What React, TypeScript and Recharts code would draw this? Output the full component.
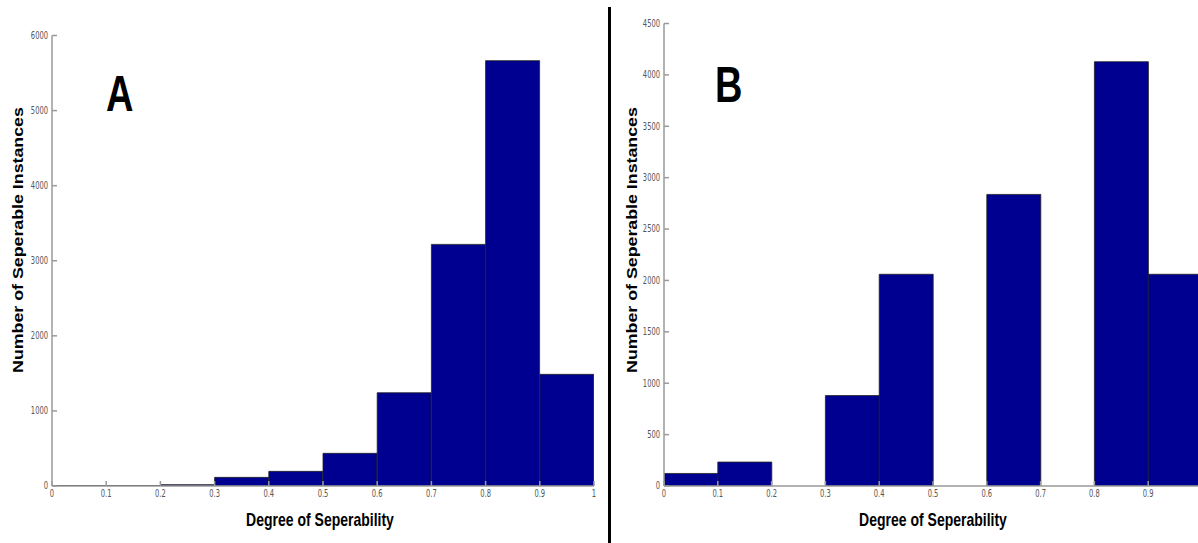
import React from 'react';
import { BarChart, Bar, XAxis, YAxis } from 'recharts';

const binCenters = [0.05, 0.15, 0.25, 0.35, 0.45, 0.55, 0.65, 0.75, 0.85, 0.95];
const countsA = [5, 5, 18, 115, 195, 435, 1242, 3218, 5665, 1487];
const countsB = [122, 233, 0, 880, 2060, 0, 2837, 0, 4128, 2060];
const xTicksA = [0, 0.1, 0.2, 0.3, 0.4, 0.5, 0.6, 0.7, 0.8, 0.9, 1];
const xTicksB = [0, 0.1, 0.2, 0.3, 0.4, 0.5, 0.6, 0.7, 0.8, 0.9];
const yTicksA = [0, 1000, 2000, 3000, 4000, 5000, 6000];
const yTicksB = [0, 500, 1000, 1500, 2000, 2500, 3000, 3500, 4000, 4500];

const dataA = binCenters.map((c, i) => ({ x: c, count: countsA[i] }));
const dataB = binCenters.map((c, i) => ({ x: c, count: countsB[i] }));

const FONT = "'Liberation Sans', Arial, sans-serif";
const TICK_FONT = "'Liberation Sans Narrow', 'DejaVu Sans Condensed', 'Liberation Sans', Arial, sans-serif";
const SY = 1.3;

const YTick = (props: any) => {
  const { x, y, payload } = props;
  return (
    <g transform={`translate(${x},${y}) scale(1,${SY})`}>
      <text x={0} y={0} dy="0.35em" textAnchor="end" fontSize={7.5} fill="#555" fontFamily={TICK_FONT}>
        {payload.value}
      </text>
    </g>
  );
};

const XTick = (props: any) => {
  const { x, y, payload } = props;
  return (
    <g transform={`translate(${x},${y}) scale(1,${SY})`}>
      <text x={0} y={0} dy="0.71em" textAnchor="middle" fontSize={7.5} fill="#555" fontFamily={TICK_FONT}>
        {payload.value}
      </text>
    </g>
  );
};

const BAR_FILL = '#000090';
const AXIS_COLOR = '#9a9a9a';

function Hist({ data, yMax, yTicks, xTicks, margin }: any) {
  return (
    <BarChart width={600} height={543} data={data} margin={margin} barCategoryGap={0} barGap={0}>
      <XAxis
        dataKey="x"
        type="number"
        domain={[0, 1]}
        ticks={xTicks}
        allowDataOverflow
        padding={{ left: 0, right: 0 }}
        height={30}
        tickSize={-5}
        tickMargin={9}
        stroke={AXIS_COLOR}
        strokeWidth={1.5}
        tick={<XTick />}
        interval={0}
      />
      <YAxis
        type="number"
        domain={[0, yMax]}
        ticks={yTicks}
        allowDataOverflow
        width={40}
        tickSize={-5}
        tickMargin={9}
        stroke={AXIS_COLOR}
        strokeWidth={1.5}
        tick={<YTick />}
        interval={0}
      />
      <Bar dataKey="count" fill={BAR_FILL} stroke="#222" strokeWidth={0.8} isAnimationActive={false} />
    </BarChart>
  );
}

export default function App() {
  return (
    <div style={{ position: 'absolute', left: 0, top: 0, width: 1198, height: 543, overflow: 'hidden', background: '#fff' }}>
      <div style={{ position: 'absolute', left: 0, top: 0 }}>
        <Hist data={dataA} yMax={6000} yTicks={yTicksA} xTicks={xTicksA} margin={{ top: 35.5, right: 6, bottom: 27, left: 12 }} />
      </div>
      <div style={{ position: 'absolute', left: 612, top: 0 }}>
        <Hist data={dataB} yMax={4500} yTicks={yTicksB} xTicks={xTicksB} margin={{ top: 23.5, right: 10, bottom: 27, left: 12 }} />
      </div>
      <svg width={1198} height={543} style={{ position: 'absolute', left: 0, top: 0, pointerEvents: 'none' }}>
        <rect x={608} y={7} width={3} height={536} fill="#000" />
        <g transform={`translate(106,111) scale(1,1.3)`}>
          <text x={0} y={0} fontSize={38} fontWeight="bold" fontFamily={FONT} fill="#000">A</text>
        </g>
        <g transform={`translate(715,102) scale(1,1.3)`}>
          <text x={0} y={0} fontSize={38} fontWeight="bold" fontFamily={FONT} fill="#000">B</text>
        </g>
        <g transform={`translate(320,526) scale(1,1.27)`}>
          <text x={0} y={0} textAnchor="middle" fontSize={14} fontWeight="bold" fontFamily={FONT} fill="#000">Degree of Seperability</text>
        </g>
        <g transform={`translate(933,526) scale(1,1.27)`}>
          <text x={0} y={0} textAnchor="middle" fontSize={14} fontWeight="bold" fontFamily={FONT} fill="#000">Degree of Seperability</text>
        </g>
        <g transform={`translate(23,240) scale(1,1.27) rotate(-90)`}>
          <text x={0} y={0} textAnchor="middle" fontSize={14} fontWeight="bold" fontFamily={FONT} fill="#000">Number of Seperable Instances</text>
        </g>
        <g transform={`translate(637,240) scale(1,1.27) rotate(-90)`}>
          <text x={0} y={0} textAnchor="middle" fontSize={14} fontWeight="bold" fontFamily={FONT} fill="#000">Number of Seperable Instances</text>
        </g>
      </svg>
    </div>
  );
}
